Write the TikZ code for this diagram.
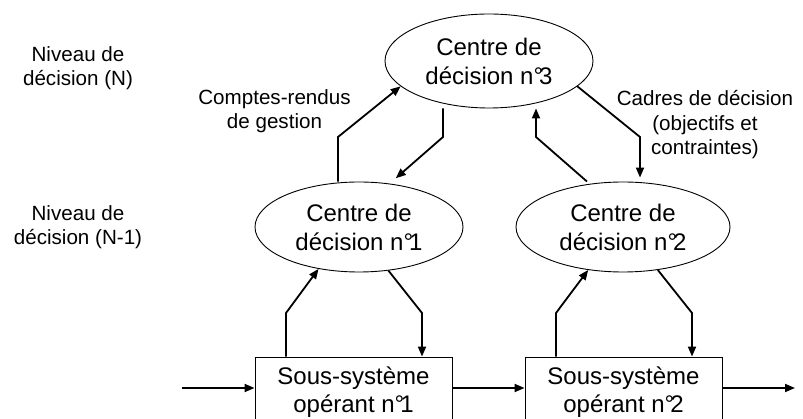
\documentclass[tikz,border=0pt]{standalone}
\usepackage{fontspec}
\setmainfont{Liberation Sans}
\usetikzlibrary{shapes.geometric,arrows.meta,calc}
\newcommand{\numdeg}[1]{n°\kern-4pt#1}
\begin{document}
\begin{tikzpicture}[x=1pt,y=-1pt,
  centre/.style={draw,ellipse,line width=0.9pt,inner sep=0pt,align=center,font=\fontsize{24}{29}\selectfont},
  boite/.style={draw,rectangle,line width=0.9pt,inner sep=0pt,minimum width=197pt,minimum height=70pt,align=center,font=\fontsize{24}{28}\selectfont},
  lab/.style={align=center,font=\fontsize{20.6}{24.5}\selectfont},
  arr/.style={line width=1.8pt,-{Triangle[length=10pt,width=8pt]}}]
\useasboundingbox (0,0) rectangle (803,419);
\clip (0,0) rectangle (803,419);
\fill[white] (0,0) rectangle (803,419);
% nodes
\node[centre,minimum width=208pt,minimum height=94pt] (e3) at (489,61) {Centre de\\décision \numdeg{3}};
\node[centre,minimum width=208pt,minimum height=90pt] (e1) at (359,227) {Centre de\\décision \numdeg{1}};
\node[centre,minimum width=214pt,minimum height=90pt] (e2) at (623,227) {Centre de\\décision \numdeg{2}};
\node[boite] (b1) at (353.5,392) {Sous-système\\opérant \numdeg{1}};
\node[boite] (b2) at (623.5,392) {Sous-système\\opérant \numdeg{2}};
% labels
\node[lab] (lN) at (78,68) {Niveau de\\décision (N)};
\node[lab] (lN1) at (78,227) {Niveau de\\décision (N-1)};
\node[lab] (lcr) at (274.5,111) {Comptes-rendus\\de gestion};
\node[lab] (lcd) at (705,125) {Cadres de décision\\(objectifs et\\contraintes)};
\coordinate (in) at (182,388);
\coordinate (out) at (795,388);
% horizontal flow
\draw[arr] (in) -- ($(b1.west)+(0,-4)$);
\draw[arr] ($(b1.east)+(0,-4)$) -- ($(b2.west)+(0,-4)$);
\draw[arr] ($(b2.east)+(0,-4)$) -- (out);
% box <-> level N-1
\draw[arr] (b1.north -| 286,0) -- (286,313) -- (e1.226);
\draw[arr] (e1.304) -- (422,313) -- (b1.north -| 422,0);
\draw[arr] (b2.north -| 556,0) -- (556,313) -- (e2.231);
\draw[arr] (e2.309) -- (692,313) -- (b2.north -| 692,0);
% level N-1 <-> level N
\draw[arr] (e1.north -| 338,0) -- (338,137) -- (e3.196);
\draw[arr,shorten >=5pt] (e3.south -| 443,0) -- (443,137) -- (e1.north -| 392,0);
\draw[arr] (e2.north -| 587,0) -- (536,137) -- (e3.south -| 536,0);
\draw[arr,shorten >=4pt] (e3.344) -- (640,137) -- (e2.north -| 640,0);
\end{tikzpicture}
\end{document}
